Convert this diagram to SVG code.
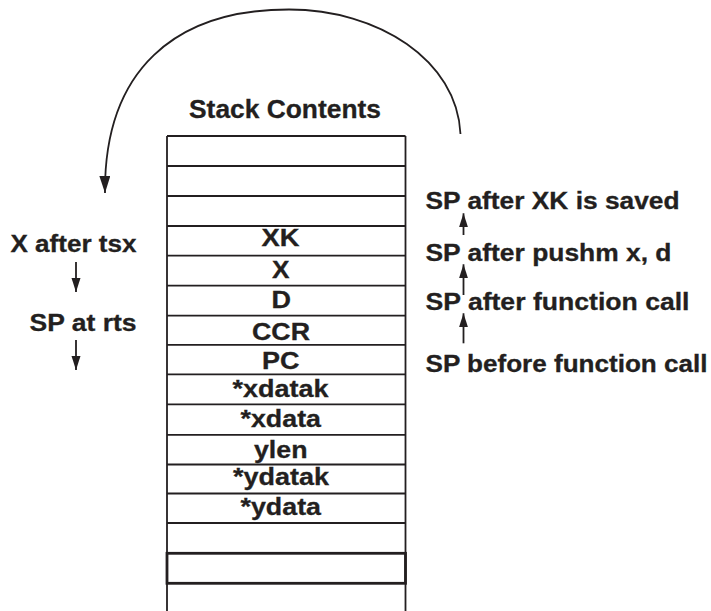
<svg xmlns="http://www.w3.org/2000/svg" width="711" height="611" viewBox="0 0 711 611">
  <style>
    text { font-family: "Liberation Sans", Arial, Helvetica, sans-serif; font-weight: bold; fill: #231f20; stroke: #231f20; stroke-width: 0.3; }
    .lbl { font-size: 23px; }
    .title { font-size: 25px; }
    .rule { stroke: #231f20; stroke-width: 1.8; fill: none; }
    .box { stroke: #231f20; stroke-width: 2.8; fill: none; }
    .wire { stroke: #231f20; stroke-width: 1.8; fill: none; }
  </style>
  <defs>
    <marker id="headBig" markerUnits="userSpaceOnUse" markerWidth="18" markerHeight="12" refX="17" refY="5.5" orient="auto">
      <path d="M0,0 L17,5.5 L0,11 z" fill="#231f20"/>
    </marker>
    <marker id="headSmall" markerUnits="userSpaceOnUse" markerWidth="15" markerHeight="10" refX="14" refY="4.5" orient="auto">
      <path d="M0,0 L14,4.5 L0,9 z" fill="#231f20"/>
    </marker>
  </defs>

  <rect width="711" height="611" fill="#ffffff"/>

  <text class="title" x="189" y="118" textLength="192" lengthAdjust="spacingAndGlyphs">Stack Contents</text>

  <!-- stack frame: two side walls running off the bottom edge -->
  <g id="stack">
    <line class="rule" x1="167" y1="136" x2="167" y2="611"/>
    <line class="rule" x1="405.5" y1="136" x2="405.5" y2="611"/>
    <line class="rule" x1="167" y1="136" x2="405.5" y2="136"/>
    <line class="rule" x1="167" y1="166" x2="405.5" y2="166"/>
    <line class="rule" x1="167" y1="196" x2="405.5" y2="196"/>
    <line class="rule" x1="167" y1="226" x2="405.5" y2="226"/>
    <line class="rule" x1="167" y1="255.7" x2="405.5" y2="255.7"/>
    <line class="rule" x1="167" y1="285.7" x2="405.5" y2="285.7"/>
    <line class="rule" x1="167" y1="315.7" x2="405.5" y2="315.7"/>
    <line class="rule" x1="167" y1="344.8" x2="405.5" y2="344.8"/>
    <line class="rule" x1="167" y1="374.4" x2="405.5" y2="374.4"/>
    <line class="rule" x1="167" y1="404.3" x2="405.5" y2="404.3"/>
    <line class="rule" x1="167" y1="434.8" x2="405.5" y2="434.8"/>
    <line class="rule" x1="167" y1="464.5" x2="405.5" y2="464.5"/>
    <line class="rule" x1="167" y1="493.5" x2="405.5" y2="493.5"/>
    <line class="rule" x1="167" y1="523" x2="405.5" y2="523"/>
  </g>
  <g id="cell-empty-box">
    <rect class="box" x="167" y="553.3" width="238.5" height="30"/>
  </g>

  <g id="cell-xk"><text class="lbl" x="261.5" y="245.7" textLength="38" lengthAdjust="spacingAndGlyphs">XK</text></g>
  <g id="cell-x"><text class="lbl" x="272" y="278.3" textLength="17.5" lengthAdjust="spacingAndGlyphs">X</text></g>
  <g id="cell-d"><text class="lbl" x="271.5" y="308.3" textLength="19.5" lengthAdjust="spacingAndGlyphs">D</text></g>
  <g id="cell-ccr"><text class="lbl" x="252" y="340" textLength="58" lengthAdjust="spacingAndGlyphs">CCR</text></g>
  <g id="cell-pc"><text class="lbl" x="262" y="369.3" textLength="37.5" lengthAdjust="spacingAndGlyphs">PC</text></g>
  <g id="cell-xdatak"><text class="lbl" x="232.5" y="396.7" textLength="96" lengthAdjust="spacingAndGlyphs">*xdatak</text></g>
  <g id="cell-xdata"><text class="lbl" x="240.5" y="427.3" textLength="80.5" lengthAdjust="spacingAndGlyphs">*xdata</text></g>
  <g id="cell-ylen"><text class="lbl" x="254" y="457.7" textLength="53.5" lengthAdjust="spacingAndGlyphs">ylen</text></g>
  <g id="cell-ydatak"><text class="lbl" x="233" y="485" textLength="96" lengthAdjust="spacingAndGlyphs">*ydatak</text></g>
  <g id="cell-ydata"><text class="lbl" x="240.5" y="515" textLength="80.5" lengthAdjust="spacingAndGlyphs">*ydata</text></g>

  <!-- left-hand pointer labels -->
  <g id="x-after-tsx"><text class="lbl" x="10.5" y="252" textLength="126" lengthAdjust="spacingAndGlyphs">X after tsx</text></g>
  <g id="sp-at-rts"><text class="lbl" x="29.5" y="331" textLength="107" lengthAdjust="spacingAndGlyphs">SP at rts</text></g>

  <!-- right-hand pointer labels -->
  <g id="sp-xk-saved"><text class="lbl" x="425.5" y="209" textLength="254" lengthAdjust="spacingAndGlyphs">SP after XK is saved</text></g>
  <g id="sp-pushm"><text class="lbl" x="425.5" y="261" textLength="246" lengthAdjust="spacingAndGlyphs">SP after pushm x, d</text></g>
  <g id="sp-after-call"><text class="lbl" x="425.5" y="309.5" textLength="264" lengthAdjust="spacingAndGlyphs">SP after function call</text></g>
  <g id="sp-before-call"><text class="lbl" x="425.5" y="371.5" textLength="282" lengthAdjust="spacingAndGlyphs">SP before function call</text></g>

  <g id="connectors">
    <path class="wire" d="M460.5,134 C457,60 378,9.5 289,9.5 C175,9.5 104,70 105,193" marker-end="url(#headBig)"/>
    <line class="wire" x1="76" y1="262" x2="76" y2="292" marker-end="url(#headSmall)"/>
    <line class="wire" x1="76" y1="340" x2="76" y2="370" marker-end="url(#headSmall)"/>
    <line class="wire" x1="463.5" y1="235" x2="463.5" y2="213.3" marker-end="url(#headSmall)"/>
    <line class="wire" x1="463.5" y1="295" x2="463.5" y2="264.3" marker-end="url(#headSmall)"/>
    <line class="wire" x1="463.5" y1="343.3" x2="463.5" y2="313.3" marker-end="url(#headSmall)"/>
  </g>
</svg>
